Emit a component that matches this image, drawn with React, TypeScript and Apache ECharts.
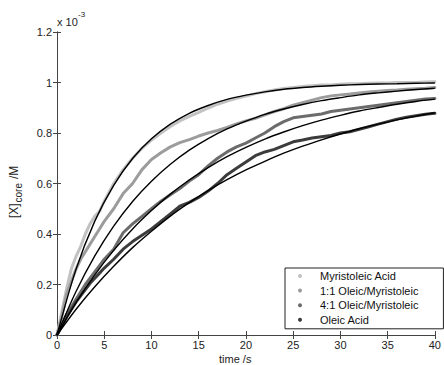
import React, { useEffect, useRef } from "react";
import * as echarts from "echarts";

// time points of the measured traces (s)
const DATA_T = [0, 0.5, 1, 1.5, 2, 2.5, 3, 3.5, 4, 4.5, 5, 6, 7, 8, 9, 10, 11, 12, 13, 14, 15, 16, 17, 18, 19, 20, 21, 22, 23, 24, 25, 26, 27, 28, 29, 30, 31, 32, 33, 34, 35, 36, 37, 38, 39, 40];

// measured [X]core (x 10^-3 M)
const MYRISTOLEIC = [0, 0.09, 0.18, 0.26, 0.31, 0.35, 0.4, 0.44, 0.47, 0.49, 0.53, 0.6, 0.655, 0.7, 0.74, 0.772, 0.8, 0.826, 0.848, 0.866, 0.882, 0.899, 0.914, 0.926, 0.937, 0.946, 0.956, 0.963, 0.97, 0.976, 0.98, 0.984, 0.987, 0.99, 0.99, 0.993, 0.995, 0.995, 0.997, 0.998, 0.998, 1.0, 1.0, 1.0, 1.002, 1.003];
const OLEIC_MYR_11 = [0, 0.07, 0.16, 0.21, 0.26, 0.3, 0.33, 0.36, 0.39, 0.42, 0.45, 0.5, 0.56, 0.6, 0.655, 0.695, 0.722, 0.745, 0.762, 0.774, 0.788, 0.8, 0.81, 0.822, 0.836, 0.848, 0.858, 0.872, 0.885, 0.896, 0.91, 0.92, 0.93, 0.94, 0.947, 0.951, 0.954, 0.958, 0.962, 0.965, 0.968, 0.97, 0.973, 0.975, 0.977, 0.98];
const OLEIC_MYR_41 = [0, 0.04, 0.08, 0.11, 0.14, 0.17, 0.2, 0.225, 0.25, 0.275, 0.3, 0.34, 0.405, 0.44, 0.47, 0.5, 0.53, 0.555, 0.58, 0.61, 0.635, 0.67, 0.7, 0.725, 0.745, 0.76, 0.78, 0.8, 0.825, 0.845, 0.86, 0.865, 0.87, 0.875, 0.885, 0.89, 0.895, 0.9, 0.905, 0.91, 0.915, 0.92, 0.925, 0.93, 0.935, 0.937];
const OLEIC = [0, 0.035, 0.07, 0.1, 0.13, 0.155, 0.18, 0.205, 0.225, 0.245, 0.265, 0.3, 0.34, 0.37, 0.395, 0.42, 0.45, 0.48, 0.51, 0.525, 0.545, 0.57, 0.6, 0.635, 0.66, 0.685, 0.71, 0.725, 0.735, 0.75, 0.765, 0.772, 0.78, 0.785, 0.79, 0.8, 0.805, 0.815, 0.825, 0.835, 0.845, 0.855, 0.862, 0.868, 0.874, 0.878];

// fitted curves, read at every 2 s
const FIT_T = [0, 2, 4, 6, 8, 10, 12, 14, 16, 18, 20, 22, 24, 26, 28, 30, 32, 34, 36, 38, 40];
const FIT_MYRISTOLEIC = [0, 0.259, 0.451, 0.593, 0.699, 0.777, 0.835, 0.878, 0.909, 0.933, 0.95, 0.963, 0.973, 0.98, 0.985, 0.989, 0.992, 0.994, 0.995, 0.997, 0.998];
const FIT_11 = [0, 0.171, 0.313, 0.431, 0.529, 0.609, 0.676, 0.732, 0.778, 0.816, 0.847, 0.874, 0.895, 0.913, 0.928, 0.94, 0.951, 0.959, 0.966, 0.972, 0.977];
const FIT_41 = [0, 0.127, 0.238, 0.335, 0.42, 0.493, 0.558, 0.614, 0.663, 0.706, 0.743, 0.776, 0.804, 0.829, 0.851, 0.87, 0.887, 0.901, 0.914, 0.925, 0.934];
const FIT_OLEIC = [0, 0.101, 0.191, 0.272, 0.346, 0.411, 0.471, 0.524, 0.572, 0.615, 0.654, 0.688, 0.72, 0.748, 0.773, 0.796, 0.817, 0.835, 0.852, 0.867, 0.88];

const SERIES_NAMES = ["Myristoleic Acid", "1:1 Oleic/Myristoleic", "4:1 Oleic/Myristoleic", "Oleic Acid"];
const SERIES_COLORS = ["#c2c2c2", "#9c9c9c", "#6c6c6c", "#3c3c3c"];

const X_TICKS = [0, 5, 10, 15, 20, 25, 30, 35, 40];
const Y_TICKS = [0, 0.2, 0.4, 0.6, 0.8, 1, 1.2];

const FONT = "'Liberation Sans', Arial, Helvetica, sans-serif";

const pairs = (xs: number[], ys: number[]) => xs.map((x, i) => [x, ys[i]]);

export default function App() {
  const ref = useRef<HTMLDivElement>(null);
  useEffect(() => {
    if (!ref.current) return;
    const chart = echarts.init(ref.current, undefined, { renderer: "svg" });
    const dataSets = [MYRISTOLEIC, OLEIC_MYR_11, OLEIC_MYR_41, OLEIC];
    const fitSets = [FIT_MYRISTOLEIC, FIT_11, FIT_41, FIT_OLEIC];
    const axisColor = "#444";
    const xMin = X_TICKS[0], xMax = X_TICKS[X_TICKS.length - 1];
    const yMin = Y_TICKS[0], yMax = Y_TICKS[Y_TICKS.length - 1];
    const baseX = {
      type: "value" as const,
      min: xMin,
      max: xMax,
      interval: X_TICKS[1] - X_TICKS[0],
      axisLine: { show: true, lineStyle: { color: axisColor, width: 1 } },
      axisTick: { show: true, inside: true, length: 4, lineStyle: { color: axisColor } },
      splitLine: { show: false },
    };
    const baseY = {
      type: "value" as const,
      min: yMin,
      max: yMax,
      interval: Y_TICKS[1] - Y_TICKS[0],
      axisLine: { show: true, lineStyle: { color: axisColor, width: 1 } },
      axisTick: { show: true, inside: true, length: 4, lineStyle: { color: axisColor } },
      splitLine: { show: false },
    };
    const option: any = {
      animation: false,
      backgroundColor: "#fff",
      grid: { left: 57, right: 5, top: 32, bottom: 30, containLabel: false },
      xAxis: [
        {
          ...baseX,
          position: "bottom",
          axisLabel: { show: true, color: "#222", fontSize: 11, fontFamily: FONT, margin: 4 },
        },
        { ...baseX, position: "top", axisLabel: { show: false } },
      ],
      yAxis: [
        {
          ...baseY,
          position: "left",
          axisLabel: {
            show: true,
            color: "#222",
            fontSize: 11,
            fontFamily: FONT,
            margin: 5,
            formatter: (v: number) => String(Math.round(v * 10) / 10),
          },
        },
        { ...baseY, position: "right", axisLabel: { show: false } },
      ],
      legend: {
        data: SERIES_NAMES.map((n) => ({ name: n, icon: "circle" })),
        orient: "vertical",
        left: 285,
        top: 268,
        itemWidth: 4,
        itemHeight: 4,
        itemGap: 0.6,
        padding: [1, 25, 2, 13],
        borderColor: "#222",
        borderWidth: 1,
        backgroundColor: "#fff",
        textStyle: { fontSize: 11, fontFamily: FONT, color: "#111", lineHeight: 14, padding: [0, 0, 0, 13] },
      },
      graphic: [
        {
          type: "text",
          left: 57,
          top: 16,
          style: { text: "x 10", fontSize: 11, fontFamily: FONT, fill: "#222" },
        },
        {
          type: "text",
          left: 78,
          top: 10,
          style: { text: "-3", fontSize: 8, fontFamily: FONT, fill: "#222" },
        },
        {
          type: "text",
          left: 219,
          top: 353,
          style: { text: "time /s", fontSize: 11, fontFamily: FONT, fill: "#222" },
        },
        {
          type: "group",
          x: 20,
          y: 186,
          rotation: Math.PI / 2,
          children: [
            {
              type: "text",
              x: -32,
              y: 0,
              style: { text: "[X]", fontSize: 12, fontFamily: FONT, fill: "#222", textAlign: "left", textVerticalAlign: "bottom" },
            },
            {
              type: "text",
              x: -16.5,
              y: 3.5,
              style: { text: "core", fontSize: 10, fontFamily: FONT, fill: "#222", textAlign: "left", textVerticalAlign: "bottom" },
            },
            {
              type: "text",
              x: 7,
              y: 0,
              style: { text: "/M", fontSize: 12, fontFamily: FONT, fill: "#222", textAlign: "left", textVerticalAlign: "bottom" },
            },
          ],
        },
      ],
      series: [
        ...dataSets.map((d, i) => ({
          name: SERIES_NAMES[i],
          type: "line",
          data: pairs(DATA_T, d),
          showSymbol: false,
          symbol: "circle",
          symbolSize: 4,
          itemStyle: { color: SERIES_COLORS[i] },
          lineStyle: { color: SERIES_COLORS[i], width: 3, cap: "round", join: "round" },
          z: 2,
          silent: true,
        })),
        ...fitSets.map((d, i) => ({
          name: "fit " + i,
          type: "line",
          data: pairs(FIT_T, d),
          smooth: 0.3,
          showSymbol: false,
          lineStyle: { color: "#000", width: 1.4 },
          z: 3,
          silent: true,
        })),
      ],
    };
    chart.setOption(option);
    return () => chart.dispose();
  }, []);
  return (
    <div
      ref={ref}
      style={{ position: "fixed", left: 0, top: 0, width: 444, height: 365, background: "#fff" }}
    />
  );
}
